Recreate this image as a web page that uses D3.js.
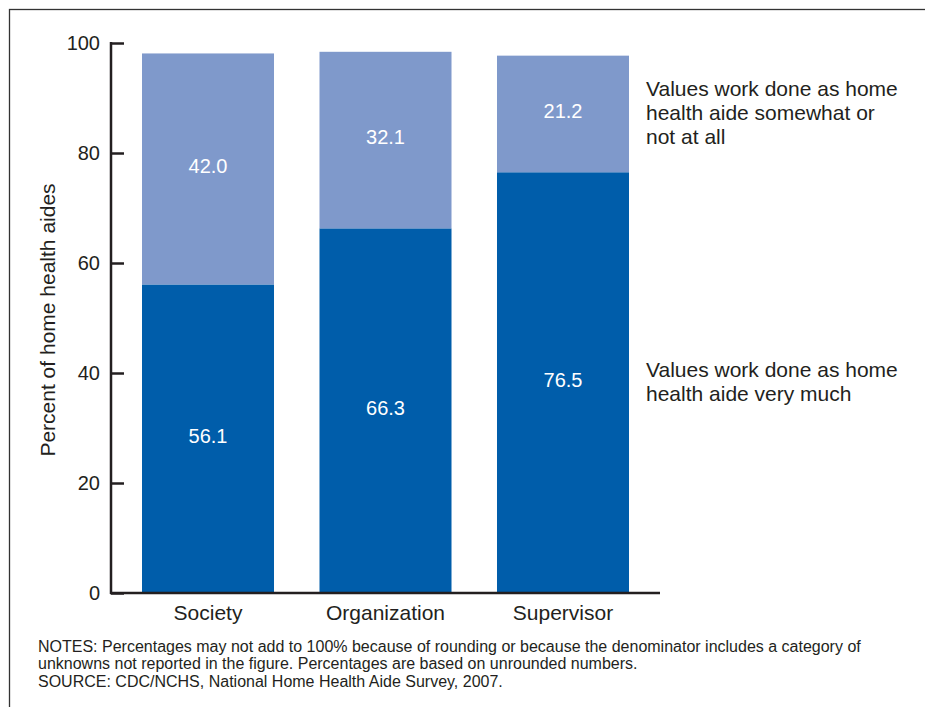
<!DOCTYPE html>
<html>
<head>
<meta charset="utf-8">
<script src="https://cdn.jsdelivr.net/npm/d3@7"></script>
<style>
  body { margin: 0; background: #fff; }
  svg text { font-family: Arial, "Liberation Sans", Helvetica, sans-serif; fill: #231f20; }
</style>
</head>
<body>
<svg id="chart" width="925" height="707"></svg>
<script>
// data
var categories = ["Society", "Organization", "Supervisor"];
var veryMuch = [56.1, 66.3, 76.5];
var somewhat = [42.0, 32.1, 21.2];
var yTicks = [0, 20, 40, 60, 80, 100];
var legendTop = ["Values work done as home", "health aide somewhat or", "not at all"];
var legendBottom = ["Values work done as home", "health aide very much"];
var notes = [
  "NOTES: Percentages may not add to 100% because of rounding or because the denominator includes a category of",
  "unknowns not reported in the figure. Percentages are based on unrounded numbers.",
  "SOURCE: CDC/NCHS, National Home Health Aide Survey, 2007."
];

var dark = "#005daa", light = "#7f99cb";

var svg = d3.select("#chart");

// outer frame
svg.append("rect")
    .attr("x", 9.5).attr("y", 9.5)
    .attr("width", 940).attr("height", 740)
    .attr("fill", "none").attr("stroke", "#333").attr("stroke-width", 1.3);

var x = d3.scaleBand().domain(categories).range([142, 629]).paddingInner(0.2563).paddingOuter(0);
var y = d3.scaleLinear().domain([0, 100]).range([593, 43]);

var stackData = categories.map(function(c, i) {
  return { cat: c, segs: [
    { y0: 0, y1: veryMuch[i], v: veryMuch[i], color: dark },
    { y0: veryMuch[i], y1: veryMuch[i] + somewhat[i], v: somewhat[i], color: light }
  ]};
});

var groups = svg.append("g").selectAll("g")
    .data(stackData)
    .enter().append("g");

groups.selectAll("rect")
    .data(function(d) { return d.segs.map(function(s) { s.cat = d.cat; return s; }); })
    .enter().append("rect")
    .attr("x", function(d) { return x(d.cat); })
    .attr("width", x.bandwidth())
    .attr("y", function(d) { return y(d.y1); })
    .attr("height", function(d) { return y(d.y0) - y(d.y1); })
    .attr("fill", function(d) { return d.color; });

groups.selectAll("text.val")
    .data(function(d) { return d.segs; })
    .enter().append("text")
    .attr("class", "val")
    .attr("x", function(d) { return x(d.cat) + x.bandwidth() / 2; })
    .attr("y", function(d) { return (y(d.y0) + y(d.y1)) / 2 - 3; })
    .attr("dy", "0.35em")
    .attr("text-anchor", "middle")
    .style("fill", "#fff")
    .style("font-size", "20px")
    .text(function(d) { return d.v.toFixed(1); });

// y axis
var yAxis = svg.append("g")
    .attr("transform", "translate(111,0)")
    .call(d3.axisRight(y).tickValues(yTicks).tickSize(13));
yAxis.select(".domain").attr("stroke", "#231f20").attr("stroke-width", 2.5).attr("d", "M0,42V594");
yAxis.selectAll(".tick line").attr("stroke", "#231f20").attr("stroke-width", 2.5);
yAxis.selectAll(".tick text")
    .attr("text-anchor", "end")
    .attr("x", -11)
    .style("font-size", "20px").style("fill", "#231f20");

// x axis baseline
svg.append("line")
    .attr("x1", 110).attr("x2", 660)
    .attr("y1", y(0)).attr("y2", y(0))
    .attr("stroke", "#231f20").attr("stroke-width", 2.5);

svg.append("g").selectAll("text")
    .data(categories)
    .enter().append("text")
    .attr("x", function(d) { return x(d) + x.bandwidth() / 2; })
    .attr("y", 620)
    .attr("text-anchor", "middle")
    .style("font-size", "21px")
    .text(function(d) { return d; });

svg.append("text")
    .attr("transform", "translate(55,320) rotate(-90)")
    .attr("text-anchor", "middle")
    .style("font-size", "21px")
    .text("Percent of home health aides");

function legend(lines, top) {
  svg.append("g").selectAll("text")
      .data(lines)
      .enter().append("text")
      .attr("x", 646)
      .attr("y", function(d, i) { return top + i * 24; })
      .style("font-size", "21px")
      .text(function(d) { return d; });
}
legend(legendTop, 96);
legend(legendBottom, 377);

svg.append("g").selectAll("text")
    .data(notes)
    .enter().append("text")
    .attr("x", 38)
    .attr("y", function(d, i) { return 651.5 + i * 17.5; })
    .style("font-size", "16px")
    .text(function(d) { return d; });
</script>
</body>
</html>
